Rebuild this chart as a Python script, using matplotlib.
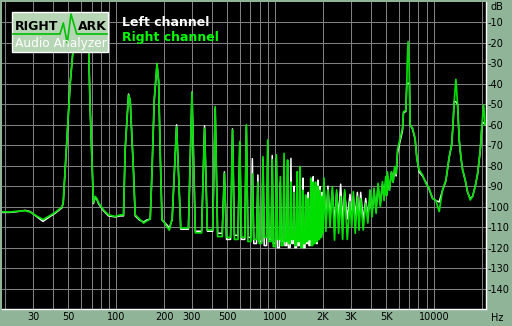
import matplotlib
matplotlib.use("Agg")
import matplotlib.pyplot as plt
from matplotlib.patches import Rectangle
from matplotlib.lines import Line2D

# low end: 20 Hz .. 225 Hz (hum at 60/120/180 Hz)
freq_low = [19.1, 21.4, 24.0, 26.7, 28.7, 31.5, 34.6, 38.0, 41.3, 45.5, 46.4, 48.9, 51.3, 53.7,
            56.5, 59.5, 62.5, 66.9, 68.5, 70.2, 71.9, 73.7, 75.6, 77.3, 83.2, 89.4, 98.6, 106.0,
            111.2, 113.9, 119.6, 122.5, 128.6, 131.7, 140.0, 148.7, 156.0, 163.8, 167.9, 173.6,
            180.7, 185.0, 189.5, 194.3, 208.9, 216.0, 224.6]
right_low = [-102.5, -102.6, -102.2, -102.0, -102.6, -104.5, -106.3, -104.5, -102.8, -100.2, -98.0,
             -67.4, -40.0, -22.0, -12.0, -9.0, -12.0, -18.6, -51.0, -75.6, -98.0, -95.0, -96.0,
             -98.0, -101.6, -104.0, -104.8, -104.0, -104.0, -72.0, -45.5, -48.0, -83.7, -104.0,
             -106.0, -108.0, -107.0, -106.0, -83.7, -48.0, -30.0, -38.7, -75.0, -106.0, -110.0,
             -111.5, -106.0]
left_low = [-102.8, -102.8, -102.4, -101.8, -102.4, -104.8, -107.2, -105.0, -103.2, -100.6, -98.2,
            -67.4, -40.0, -22.0, -12.0, -9.0, -12.0, -18.6, -51.0, -75.6, -98.5, -95.5, -96.5,
            -98.5, -102.0, -104.5, -105.0, -104.5, -104.5, -72.0, -45.0, -48.0, -83.0, -104.5,
            -106.5, -107.5, -106.5, -106.0, -83.7, -48.0, -30.5, -38.7, -75.0, -106.5, -109.0,
            -110.5, -106.5]

# hum harmonics 240 Hz .. 2 kHz
harm_hz = [240, 300, 360, 420, 480, 540, 600, 660, 720, 780, 840, 900, 960, 1020, 1080,
           1140, 1200, 1260, 1320, 1380, 1440, 1500, 1560, 1620, 1680, 1740, 1800, 1860, 1920, 1980]
right_peak = [-61.0, -44.3, -61.7, -51.1, -83.7, -62.5, -68.2, -60.0, -84.0, -88.0, -75.6, -67.4,
              -77.0, -74.7, -85.3, -74.0, -77.2, -88.0, -93.0, -82.9, -80.4, -92.0, -94.3, -96.0,
              -86.0, -88.0, -88.0, -90.0, -92.0, -95.0]
left_peak = [-60.0, -44.0, -60.5, -52.0, -83.0, -62.0, -69.0, -61.0, -76.5, -84.5, -77.0, -70.0,
             -75.0, -76.0, -88.0, -79.0, -78.0, -76.4, -90.0, -85.0, -83.0, -86.0, -97.0, -93.0,
             -88.0, -85.3, -90.0, -87.0, -90.2, -93.0]
right_floor = [-106.0, -110.4, -112.8, -111.4, -114.6, -115.0, -116.0, -115.0, -117.0, -116.0,
               -118.0, -115.0, -117.0, -119.5, -116.0, -119.0, -117.0, -118.0, -116.0, -119.0,
               -117.0, -120.0, -118.0, -117.0, -116.0, -119.0, -118.0, -117.0, -116.0, -115.0, -113.0]
left_floor = [-106.5, -111.0, -112.0, -112.0, -113.0, -116.0, -114.0, -116.0, -115.0, -118.0,
              -117.0, -119.0, -116.0, -118.0, -120.0, -117.0, -119.0, -120.0, -118.0, -120.0,
              -119.0, -117.0, -120.0, -118.0, -119.0, -117.0, -116.0, -118.0, -115.0, -114.0, -112.0]

# 2 kHz .. 5.8 kHz
mid_hz = [2032, 2090, 2154, 2220, 2296, 2370, 2443, 2515, 2590, 2665, 2745, 2850, 2965, 3040,
          3114, 3200, 3301, 3380, 3462, 3590, 3724, 3840, 3964, 4080, 4202, 4330, 4453, 4600,
          4746, 4860, 4980, 5040, 5104, 5250, 5410, 5540, 5675, 5790]
right_mid = [-86, -112, -91.8, -110, -90.2, -116.3, -91.8, -113, -95, -116, -91.8, -116, -97.5,
             -110, -92.7, -113, -95, -111.5, -96, -111.4, -98.3, -108, -91.8, -105, -91, -103.3,
             -88.6, -100, -87.8, -97, -85.3, -94.3, -83, -92, -83, -88, -80.4, -84]
left_mid = [-88, -108, -90, -106, -92, -108, -93, -105, -89, -107, -93, -106, -94, -106, -95,
            -105, -93, -107, -93, -107, -96, -105, -95, -103, -93, -101, -90, -99, -89, -96,
            -87, -94.5, -85, -92, -83, -88, -81, -85]

# 5.9 kHz .. 21 kHz
high_hz = [5902, 6130, 6347, 6440, 6659, 6755, 6800, 6884, 6980, 7025, 7087, 7339, 7621, 7812,
           8077, 8484, 8901, 9340, 9812, 10294, 10800, 11347, 11904, 12489, 12933, 13180, 13431,
           13766, 14110, 14443, 14803, 15174, 15756, 16315, 16943, 17545, 18221, 18867, 19600,
           20090, 20590, 20980, 21300]
right_high = [-72.3, -66.6, -61.7, -53.6, -53.0, -39.7, -29.6, -19.4, -29.6, -39.7, -60.0, -61.7,
              -66.6, -76.4, -82.0, -84.5, -88.6, -91.0, -95.9, -97.0, -102.4, -91.8, -87.0, -75.6,
              -69.9, -61.0, -48.7, -37.8, -50.0, -67.4, -75.6, -82.0, -87.0, -92.7, -96.7, -95.0,
              -90.2, -83.7, -72.3, -60.0, -50.3, -59.8, -60.0]
left_high = [-74.0, -68.0, -63.0, -54.0, -53.5, -39.7, -39.7, -39.7, -39.7, -39.7, -60.0, -62.0,
             -67.0, -76.0, -83.0, -85.0, -88.0, -91.5, -96.0, -97.0, -97.7, -92.0, -87.5, -76.0,
             -70.0, -61.0, -48.7, -48.7, -50.0, -67.4, -76.0, -82.0, -87.0, -93.0, -96.0, -95.0,
             -90.0, -84.0, -72.5, -60.0, -58.8, -59.8, -60.0]

grid_hz = [20, 30, 40, 50, 60, 70, 80, 90, 100, 200, 300, 400, 500, 600, 700, 800, 900,
           1000, 2000, 3000, 4000, 5000, 6000, 7000, 8000, 9000, 10000, 20000]
x_labels = {30: "30", 50: "50", 100: "100", 200: "200", 300: "300", 500: "500",
            1000: "1000", 2000: "2K", 3000: "3K", 5000: "5K", 10000: "10000"}
db_ticks = [-10, -20, -30, -40, -50, -60, -70, -80, -90, -100, -110, -120, -130, -140]

# join the pieces into one trace per channel
w = 15
comb_f, comb_r, comb_l = [], [], []
for i, f in enumerate(harm_hz):
    comb_f += [f - w, f, f + w]
    comb_r += [right_floor[i], right_peak[i], right_floor[i + 1]]
    comb_l += [left_floor[i], left_peak[i], left_floor[i + 1]]

freq = freq_low + comb_f + mid_hz + high_hz
right = right_low + comb_r + right_mid + right_high
left = left_low + comb_l + left_mid + left_high

bg = "#8fb498"
fig = plt.figure(figsize=(5.12, 3.26), dpi=100, facecolor=bg)
ax = fig.add_axes([2 / 512, 17 / 326, 484 / 512, 307 / 326])
ax.set_facecolor("black")
ax.set_xscale("log")
ax.set_xlim(19.1, 21300)
ax.set_ylim(-150, 0)

for f in grid_hz:
    ax.axvline(f, color="#808080", lw=0.75, zorder=1)
for d in db_ticks:
    ax.axhline(d, color="#808080", lw=0.75, zorder=1)

ax.plot(freq, left, color="white", lw=1.1, zorder=2)
ax.plot(freq, right, color="#00e000", lw=1.25, zorder=3)

ax.xaxis.set_minor_locator(matplotlib.ticker.NullLocator())
ax.set_xticks(grid_hz)
ax.set_xticklabels([x_labels.get(f, "") for f in grid_hz])
ax.yaxis.tick_right()
ax.set_yticks(db_ticks)
ax.set_yticklabels(["%d" % d for d in db_ticks])
ax.tick_params(axis="both", length=0, labelsize=7, colors="black")
ax.tick_params(axis="x", pad=2)
ax.tick_params(axis="y", pad=1)

for s in ["left", "top"]:
    ax.spines[s].set_visible(False)
for s in ["bottom", "right"]:
    ax.spines[s].set_color("white")
    ax.spines[s].set_linewidth(1.0)

fig.text(497 / 512, 1 - 7 / 326, "dB", ha="center", va="center", fontsize=7)
fig.text(497 / 512, 1 - 318 / 326, "Hz", ha="center", va="center", fontsize=7)

# RightMark logo box
def px(x, y):
    return x / 512, 1 - y / 326

logo = Rectangle(px(12, 52), 96 / 512, 40 / 326, transform=fig.transFigure,
                 facecolor="#b5d5b5", edgecolor="white", lw=1.0, zorder=5)
fig.add_artist(logo)
mx = [13, 60, 63.3, 67.3, 71, 76.7, 107]
my = [34, 34, 23, 43, 14, 34, 34]
fig.add_artist(Line2D([x / 512 for x in mx], [1 - y / 326 for y in my], transform=fig.transFigure,
                      color="#00c000", lw=1.2, zorder=6))
fig.text(*px(15, 27), "RIGHT", color="black", fontsize=9, fontweight="bold", va="center", zorder=7)
fig.text(*px(78, 27), "ARK", color="black", fontsize=9, fontweight="bold", va="center", zorder=7)
fig.text(*px(15, 43), "Audio Analyzer", color="white", fontsize=8.8, va="center", zorder=7)

fig.text(*px(122, 22), "Left channel", color="white", fontsize=9, fontweight="bold", va="center")
fig.text(*px(122, 38), "Right channel", color="#00ff00", fontsize=9, fontweight="bold", va="center")

fig.savefig("out.png", dpi=100, facecolor=bg)
